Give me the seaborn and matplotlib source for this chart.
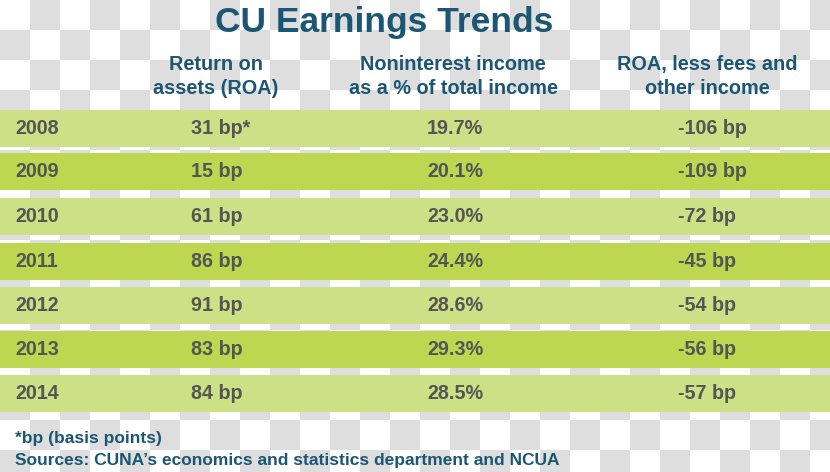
import numpy as np
import pandas as pd
import matplotlib
import matplotlib.pyplot as plt
from matplotlib.colors import ListedColormap
import seaborn as sns

# table content
years = ["2008", "2009", "2010", "2011", "2012", "2013", "2014"]
roa = ["31 bp*", "15 bp", "61 bp", "86 bp", "91 bp", "83 bp", "84 bp"]
nonint_share = ["19.7%", "20.1%", "23.0%", "24.4%", "28.6%", "29.3%", "28.5%"]
roa_less_fees = ["-106 bp", "-109 bp", "-72 bp", "-45 bp", "-54 bp", "-56 bp", "-57 bp"]
headers = ["Return on\nassets (ROA)", "Noninterest income\nas a % of total income",
           "ROA, less fees and\nother income"]
title = "CU Earnings Trends"
footnote = "*bp (basis points)"
sources = "Sources: CUNA\u2019s economics and statistics department and NCUA"

# layout in pixel units
W, H = 830, 472
band_top = [110, 153, 198, 243, 287, 331, 375]
band_h = 37
blue = "#1b5674"
grey_text = "#555555"

sns.set_theme(style="white")
plt.rcParams["font.family"] = ["Liberation Sans", "DejaVu Sans"]

fig = plt.figure(figsize=(W / 100, H / 100), dpi=100)
ax = fig.add_axes([0, 0, 1, 1])

# checkerboard backdrop
sq = 30
nr, nc = H // sq + 1, W // sq + 1
checker = (np.add.outer(np.arange(nr), np.arange(nc)) % 2).astype(float)
ax.imshow(checker, cmap=ListedColormap(["#ffffff", "#dedede"]),
          extent=(0, nc * sq, nr * sq, 0), interpolation="nearest", zorder=0)

df = pd.DataFrame({
    "year": years,
    "center": [t + band_h / 2 for t in band_top],
    "span": W,
    "shade": ["light" if i % 2 == 0 else "dark" for i in range(len(years))],
})
sns.barplot(data=df, x="span", y="center", hue="shade", orient="h",
            native_scale=True, dodge=False, width=band_h / 43, saturation=1,
            palette={"light": "#cde085", "dark": "#bed650"},
            legend=False, errorbar=None, ax=ax, zorder=1, linewidth=0)

ax.set_xlim(0, W)
ax.set_ylim(H, 0)
ax.set_axis_off()

ax.text(384, 32, title, ha="center", va="baseline", fontsize=25.5,
        fontweight="bold", color=blue)
for x, h in zip([216, 453, 707], headers):
    l1, l2 = h.split("\n")
    ax.text(x, 70, l1, ha="center", va="baseline", fontsize=14.3,
            fontweight="bold", color=blue)
    ax.text(x, 93.5, l2, ha="center", va="baseline", fontsize=14.3,
            fontweight="bold", color=blue)

for i, top in enumerate(band_top):
    base = top + 24
    for x, val in zip([15, 191, 427, 678],
                      [years[i], roa[i], nonint_share[i], roa_less_fees[i]]):
        ax.text(x, base, val, ha="left", va="baseline", fontsize=14.2,
                fontweight="bold", color=grey_text, zorder=3)

ax.text(15, 443, footnote, ha="left", va="baseline", fontsize=12.5,
        fontweight="bold", color=blue)
ax.text(15, 465, sources, ha="left", va="baseline", fontsize=12.5,
        fontweight="bold", color=blue)

plt.savefig("out.png", dpi=100)
